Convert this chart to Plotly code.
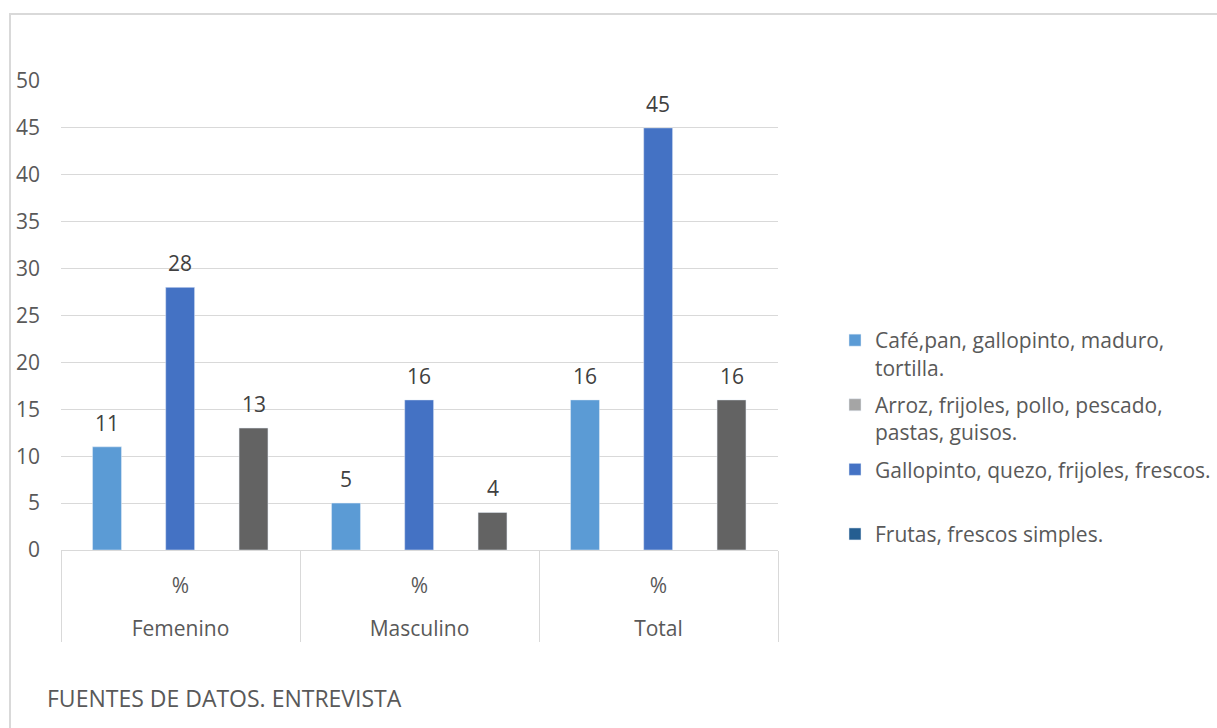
import plotly.graph_objects as go

# Groups on the horizontal axis (outer level) and the shared measure label (inner level)
groups = ["Femenino", "Masculino", "Total"]
measure = ["%", "%", "%"]

# Series values per group
cafe_pan = [11, 5, 16]
gallopinto_quezo = [28, 16, 45]
tercera_serie = [13, 4, 16]

# Legend labels
lbl_cafe = "Café,pan, gallopinto, maduro,<br>tortilla."
lbl_arroz = "Arroz, frijoles, pollo, pescado,<br>pastas, guisos."
lbl_gallo = "Gallopinto, quezo, frijoles, frescos.<br> "
lbl_frutas = "Frutas, frescos simples."

y_ticks = list(range(0, 51, 5))

FONT = "Open Sans"
TXT = "#595959"
FS = 21

# inner labels get a blank second line so the outer level sits lower
inner = [m + "<br><sub>\u00a0</sub>" for m in measure]
x_multi = [groups, inner]

fig = go.Figure()

bar_w = 0.121
series = [
    (lbl_cafe, cafe_pan, "#5B9BD5", -0.368, True, 1, "a"),
    (lbl_gallo, gallopinto_quezo, "#4472C4", -0.062, True, 3, "c"),
    ("", tercera_serie, "#636363", 0.245, False, 5, "e"),
]

annotations = []
for name, vals, color, off, show, rank, grp in series:
    fig.add_trace(go.Bar(name=name, x=x_multi, y=vals, width=bar_w, offset=off,
                         marker=dict(color=color), showlegend=show, legendrank=rank,
                         legendgroup=grp, hoverinfo="skip"))
    # value labels placed above each bar from the same values
    for i, v in enumerate(vals):
        annotations.append(dict(x=i + off + bar_w / 2, y=v, xref="x", yref="y",
                                text=str(v), showarrow=False, yanchor="bottom",
                                yshift=8, font=dict(family=FONT, size=FS, color="#404040")))

# Legend-only entries on an unused, hidden pair of axes (zero-height bars)
fig.add_trace(go.Bar(name=lbl_arroz, x=[0], y=[0], marker=dict(color="#A5A5A5"),
                     xaxis="x2", yaxis="y2", legendrank=2, legendgroup="b", hoverinfo="skip"))
fig.add_trace(go.Bar(name=lbl_frutas, x=[0], y=[0], marker=dict(color="#255E91"),
                     xaxis="x2", yaxis="y2", legendrank=4, legendgroup="d", hoverinfo="skip"))

annotations.append(dict(text="FUENTES DE DATOS. ENTREVISTA", xref="paper", yref="paper",
                        x=(45 - 61) / 717, y=(550 - 698) / 469, xanchor="left", yanchor="middle",
                        showarrow=False, font=dict(family=FONT, size=23, color=TXT)))

fig.update_layout(
    width=1217, height=728,
    margin=dict(l=61, r=439, t=81, b=178),
    paper_bgcolor="white", plot_bgcolor="white",
    barmode="overlay",
    showlegend=True,
    font=dict(family=FONT, color=TXT, size=FS),
    legend=dict(xref="container", yref="container", x=835 / 1217, y=1 - 320 / 728,
                xanchor="left", yanchor="top",
                font=dict(family=FONT, size=FS, color=TXT),
                valign="top", tracegroupgap=7, itemclick=False, itemdoubleclick=False),
    xaxis=dict(type="multicategory", showgrid=False, showline=True, linecolor="#D9D9D9",
               linewidth=1, showdividers=True, dividercolor="#D9D9D9", dividerwidth=1,
               tickfont=dict(family=FONT, size=FS, color=TXT), ticks="",
               ticklabelstandoff=17),
    yaxis=dict(range=[0, 50], tickvals=y_ticks, showgrid=True, gridcolor="#D9D9D9",
               gridwidth=1, zeroline=False, showline=False, ticks="",
               ticklabelstandoff=20,
               tickfont=dict(family=FONT, size=FS, color=TXT)),
    xaxis2=dict(visible=False, overlaying="x", range=[5, 6]),
    yaxis2=dict(visible=False, overlaying="y", range=[0, 1]),
    shapes=[dict(type="rect", xref="paper", yref="paper",
                 x0=(10 - 61) / 717, x1=(1230 - 61) / 717,
                 y0=(550 - 740) / 469, y1=(550 - 14) / 469,
                 line=dict(color="#D9D9D9", width=2), fillcolor="rgba(0,0,0,0)", layer="below")],
    annotations=annotations,
)

fig.write_html("out.html")
